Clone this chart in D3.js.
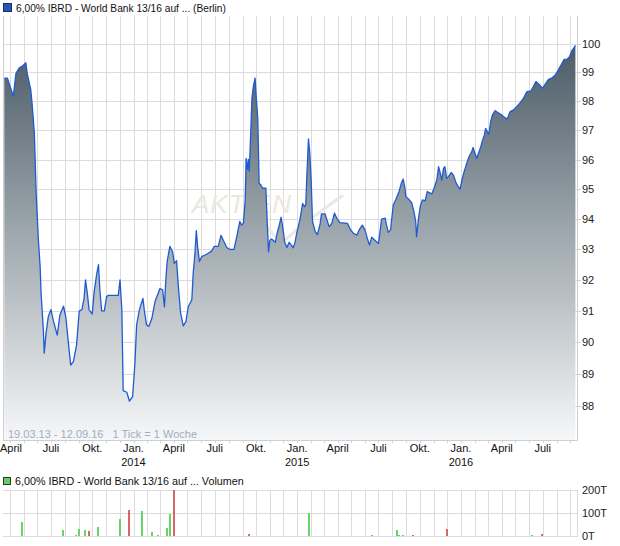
<!DOCTYPE html>
<html><head><meta charset="utf-8">
<script src="https://cdn.jsdelivr.net/npm/d3@7"></script>
<style>
html,body{margin:0;padding:0;background:#fff;}
svg{display:block;font-family:"Liberation Sans",Arial,sans-serif;}
text{white-space:pre;}
</style></head>
<body>
<svg id="c" width="620" height="546"></svg>
<script>
// ---- data ----
const titleMain = "6,00% IBRD - World Bank 13/16 auf ... (Berlin)";
const titleVol = "6,00% IBRD - World Bank 13/16 auf ... Volumen";
const rangeText = "19.03.13 - 12.09.16   1 Tick = 1 Woche";
const startDate = new Date(2013, 2, 19);
const endDate = new Date(2016, 8, 12);
const priceTicks = [88, 89, 90, 91, 92, 93, 94, 95, 96, 97, 98, 99, 100];
const volTicks = [0, 100, 200];
const volTickLabels = ["0T", "100T", "200T"];
const monthNames = {0: "Jan.", 3: "April", 6: "Juli", 9: "Okt."};
// [days since 19.03.13, price]
const priceSeries = [
[0,98.8],[7,98.8],[20,98.17],[26,98.97],[33,99.15],[41,99.23],[48,99.34],[51,98.97],[59,98.4],[62,97.9],
[67,96.9],[71,94.87],[76,93.3],[80,92.4],[82,91.57],[85,90.87],[87,90.4],[89,89.65],[93,90.28],[98,90.81],
[104,91.04],[109,90.7],[118,90.22],[124,90.87],[132,91.15],[137,90.81],[143,89.96],[148,89.27],[154,89.38],[161,89.9],
[167,90.99],[173,91.04],[178,91.41],[181,92.0],[185,91.57],[189,91.03],[196,90.9],[200,91.57],[206,92.2],[210,92.5],
[213,91.68],[217,91.0],[223,91.0],[228,91.46],[232,91.5],[254,91.5],[258,92.0],[262,91.03],[265,88.47],[273,88.42],
[279,88.14],[286,88.28],[291,89.3],[295,90.55],[301,91.03],[309,91.4],[312,91.03],[317,90.55],[322,90.5],[329,90.76],
[336,91.3],[347,91.72],[353,91.68],[357,91.13],[360,92.0],[363,92.6],[369,93.1],[375,92.92],[379,92.54],[384,92.63],
[388,91.78],[393,90.93],[399,90.52],[405,90.66],[410,91.13],[418,91.36],[421,92.2],[425,92.87],[428,93.62],[431,93.08],
[435,92.6],[440,92.76],[451,92.84],[462,92.94],[468,93.1],[477,93.1],[483,93.46],[488,93.3],[496,93.06],[502,93.0],
[512,93.0],[518,93.4],[525,93.92],[529,93.8],[533,93.86],[537,94.64],[539,96.04],[542,95.67],[544,96.0],[546,95.6],
[549,96.8],[552,98.1],[555,98.5],[559,98.8],[561,98.27],[565,97.4],[568,95.2],[572,95.14],[576,95.03],[583,95.03],
[586,93.92],[589,92.92],[592,93.3],[596,93.34],[604,93.23],[609,93.58],[613,93.8],[617,94.06],[621,93.69],[625,93.23],
[630,93.06],[635,93.23],[641,93.12],[644,93.05],[648,93.23],[652,93.55],[659,93.98],[665,94.52],[669,94.41],[672,94.47],
[674,95.3],[678,96.7],[681,96.2],[684,95.3],[687,93.92],[693,93.58],[698,93.49],[704,93.84],[707,94.17],[715,94.17],
[719,93.98],[724,93.75],[730,93.86],[736,94.2],[741,94.03],[748,93.88],[765,93.86],[772,93.64],[778,93.53],[786,93.47],
[791,93.64],[798,93.8],[804,93.64],[809,93.37],[814,93.14],[819,93.4],[826,93.3],[834,93.19],[838,93.64],[841,94.0],
[849,94.03],[852,93.8],[856,93.56],[861,93.64],[867,94.47],[873,94.66],[880,94.92],[885,95.2],[889,95.34],[893,95.03],
[895,94.75],[903,94.64],[908,94.55],[913,94.25],[917,93.92],[919,93.42],[923,93.98],[927,94.41],[932,94.64],[938,94.61],
[943,94.92],[947,94.88],[953,94.84],[958,95.03],[964,95.3],[968,95.76],[971,95.59],[975,95.3],[979,95.7],[982,95.76],
[986,95.36],[990,95.42],[996,95.56],[1001,95.48],[1007,95.21],[1012,95.08],[1016,95.0],[1020,95.3],[1025,95.59],[1031,95.88],
[1036,96.1],[1042,96.27],[1045,96.41],[1049,96.21],[1053,96.04],[1057,96.21],[1062,96.43],[1066,96.66],[1070,96.83],[1073,97.06],
[1077,96.94],[1080,96.86],[1084,97.29],[1088,97.52],[1094,97.67],[1101,97.6],[1109,97.52],[1115,97.44],[1121,97.38],[1127,97.63],
[1135,97.7],[1142,97.81],[1150,97.95],[1157,98.1],[1165,98.33],[1174,98.36],[1179,98.5],[1185,98.68],[1191,98.6],[1200,98.45],
[1207,98.62],[1213,98.76],[1220,98.8],[1228,98.91],[1235,99.09],[1241,99.26],[1248,99.46],[1255,99.47],[1260,99.55],[1265,99.76],
[1271,99.9],[1273,99.95]
];
// volume: [days since 19.03.13, volume in T, up(1)/down(0)]
const volumeSeries = [
[39,59,1],[130,27,1],[159,5,1],[166,32,1],[180,27,1],[188,23,0],[208,40,1],[257,75,1],[277,114,0],
[307,109,1],[329,19,1],[343,6,1],[362,36,1],[369,96,1],[378,200,0],[545,10,0],[679,100,1],
[819,6,1],[875,27,1],[880,6,1],[889,6,1],[910,6,0],[986,32,0],[1176,6,1],[1199,10,0]
];

// ---- layout ----
const L = 3, R = 578, T = 16, B = 440;
const VT = 490, VB = 536;
const svg = d3.select("#c");
const gridCol = "#dcdcdc";

const x = d3.scaleTime().domain([startDate, endDate]).range([4.3, 575.4]);
const y = d3.scaleLog().domain([88, 100]).range([405.7, 44]);
const yv = d3.scaleLinear().domain([0, 200]).range([VB, VT]);

const dayDate = d => d3.timeDay.offset(startDate, d);
const prices = priceSeries.map(p => ({date: dayDate(p[0]), v: p[1]}));
const months = d3.timeMonth.range(new Date(2013, 3, 1), new Date(2016, 9, 1));

// gradient
const defs = svg.append("defs");
const grad = defs.append("linearGradient").attr("id", "g").attr("gradientUnits", "userSpaceOnUse")
  .attr("x1", 0).attr("x2", 0).attr("y1", 44).attr("y2", B);
grad.append("stop").attr("offset", 0).attr("stop-color", "#4b5b67");
grad.append("stop").attr("offset", 0.5).attr("stop-color", "#a2abb1");
grad.append("stop").attr("offset", 1).attr("stop-color", "#f6f7f8");
defs.append("clipPath").attr("id", "clip").append("rect").attr("x", L).attr("y", T).attr("width", R - L).attr("height", B - T);

// title
svg.append("rect").attr("x", 3.5).attr("y", 3.5).attr("width", 8).attr("height", 8)
  .attr("fill", "#2457b8").attr("stroke", "#1b2f5c").attr("stroke-width", 1);
svg.append("text").attr("x", 16).attr("y", 12).attr("font-size", 10.2).attr("fill", "#111").text(titleMain);

// main grid
const grid = svg.append("g").attr("stroke", gridCol).attr("stroke-width", 1).attr("shape-rendering", "crispEdges");
grid.selectAll("line.v").data(months).join("line")
  .attr("x1", d => Math.round(x(d)) + 0.5).attr("x2", d => Math.round(x(d)) + 0.5).attr("y1", T).attr("y2", B);
grid.selectAll("line.h").data(priceTicks).join("line").attr("class", "h")
  .attr("x1", L).attr("x2", R).attr("y1", d => Math.round(y(d)) + 0.5).attr("y2", d => Math.round(y(d)) + 0.5);

// watermark
svg.append("text").attr("x", 192).attr("y", 213).attr("font-size", 26).attr("font-style", "italic")
  .attr("fill", "#ebe7e1").attr("letter-spacing", 1).text("AKTIEN");
svg.append("path").attr("d", "M268,228 Q277,241 285,240 Q305,222 342,196")
  .attr("fill", "none").attr("stroke", "#ebe7e1").attr("stroke-width", 3).attr("stroke-linecap", "round");

// area + line
const area = d3.area().x(d => x(d.date)).y0(B).y1(d => y(d.v));
const line = d3.line().x(d => x(d.date)).y(d => y(d.v));
svg.append("path").datum(prices).attr("d", area).attr("fill", "url(#g)").attr("clip-path", "url(#clip)");
svg.append("path").datum(prices).attr("d", line).attr("fill", "none").attr("stroke", "#1f5bd0")
  .attr("stroke-width", 1.3).attr("stroke-linejoin", "round").attr("clip-path", "url(#clip)");

// borders
const brd = svg.append("g").attr("stroke", "#cfcfcf").attr("shape-rendering", "crispEdges");
brd.append("line").attr("x1", L + 0.5).attr("x2", L + 0.5).attr("y1", T).attr("y2", B);
brd.append("line").attr("x1", R - 0.5).attr("x2", R - 0.5).attr("y1", T).attr("y2", B);
brd.append("line").attr("x1", L).attr("x2", R).attr("y1", B + 0.5).attr("y2", B + 0.5);

// range text
svg.append("text").attr("x", 8).attr("y", 438).attr("font-size", 11).attr("fill", "#a3acbd")
  .attr("xml:space", "preserve").text(rangeText);

// y axis labels
const yAx = svg.append("g");
yAx.selectAll("line").data(priceTicks).join("line").attr("x1", R).attr("x2", R + 3)
  .attr("y1", d => Math.round(y(d)) + 0.5).attr("y2", d => Math.round(y(d)) + 0.5).attr("stroke", "#cfcfcf");
yAx.selectAll("text").data(priceTicks).join("text").attr("x", 582).attr("y", d => y(d) + 4)
  .attr("font-size", 11).attr("fill", "#222").text(d => d);

// x axis
const xAx = svg.append("g");
xAx.selectAll("line").data(months).join("line")
  .attr("x1", d => Math.round(x(d)) + 0.5).attr("x2", d => Math.round(x(d)) + 0.5)
  .attr("y1", B + 1).attr("y2", B + 3).attr("stroke", "#d4d4d4");
const qMonths = months.filter(d => monthNames[d.getMonth()] !== undefined);
xAx.selectAll("text.m").data(qMonths).join("text").attr("class", "m")
  .attr("x", d => Math.max(x(d), 11)).attr("y", 452).attr("text-anchor", "middle")
  .attr("font-size", 11).attr("fill", "#111").text(d => monthNames[d.getMonth()]);
xAx.selectAll("text.yr").data(qMonths.filter(d => d.getMonth() === 0)).join("text").attr("class", "yr")
  .attr("x", d => x(d)).attr("y", 466).attr("text-anchor", "middle")
  .attr("font-size", 11).attr("fill", "#111").text(d => d.getFullYear());

// volume panel
svg.append("rect").attr("x", 3.5).attr("y", 477.5).attr("width", 7).attr("height", 7)
  .attr("fill", "#66cc66").attr("stroke", "#2b3b2b").attr("stroke-width", 1);
svg.append("text").attr("x", 15).attr("y", 485).attr("font-size", 10.75).attr("fill", "#111").text(titleVol);

const vg = svg.append("g").attr("stroke", gridCol).attr("shape-rendering", "crispEdges");
vg.selectAll("line.v").data(months).join("line")
  .attr("x1", d => Math.round(x(d)) + 0.5).attr("x2", d => Math.round(x(d)) + 0.5).attr("y1", VT).attr("y2", VB);
vg.append("line").attr("x1", R - 0.5).attr("x2", R - 0.5).attr("y1", VT).attr("y2", VB);
vg.selectAll("line.h").data(volTicks).join("line").attr("class", "h")
  .attr("x1", L).attr("x2", R).attr("y1", d => Math.round(yv(d)) + 0.5).attr("y2", d => Math.round(yv(d)) + 0.5);

svg.append("g").selectAll("rect").data(volumeSeries).join("rect")
  .attr("x", d => Math.round(x(dayDate(d[0]))) - 1).attr("width", 2)
  .attr("y", d => yv(d[1])).attr("height", d => VB - yv(d[1]))
  .attr("fill", d => d[2] ? "#66d466" : "#d96666").attr("shape-rendering", "crispEdges");

svg.append("g").selectAll("text").data(volTicks).join("text")
  .attr("x", 582).attr("y", d => yv(d) + 4).attr("font-size", 11).attr("fill", "#222")
  .text((d, i) => volTickLabels[i]);
</script>
</body></html>
